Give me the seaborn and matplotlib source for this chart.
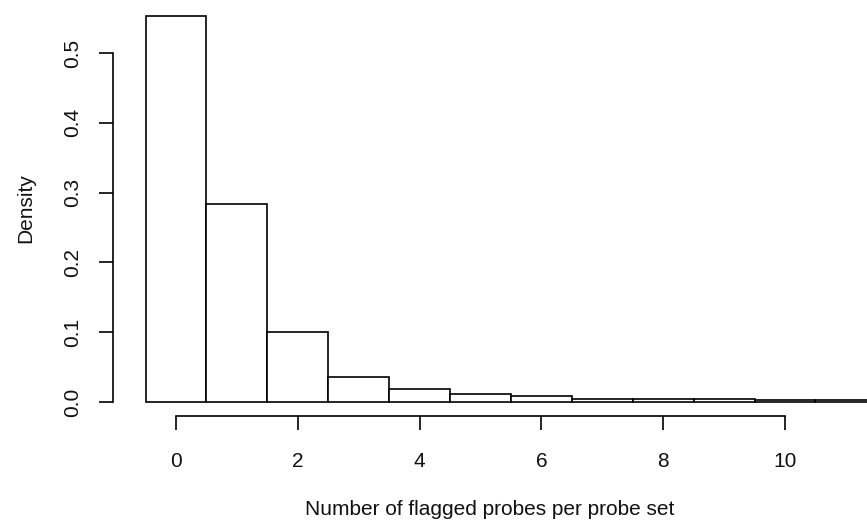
import numpy as np
import pandas as pd
import matplotlib
matplotlib.use("Agg")
import matplotlib.pyplot as plt
import seaborn as sns

# Bin centres (number of flagged probes) and density
flagged = [0, 1, 2, 3, 4, 5, 6, 7, 8, 9, 10, 11, 12, 13]
density = [0.553, 0.284, 0.100, 0.036, 0.019, 0.012, 0.009, 0.005,
           0.004, 0.004, 0.003, 0.003, 0.003, 0.002]
x_ticks = [0, 2, 4, 6, 8, 10]
y_ticks = [0.0, 0.1, 0.2, 0.3, 0.4, 0.5]
y_tick_labels = ["0.0", "0.1", "0.2", "0.3", "0.4", "0.5"]

sns.set_style("white")
plt.rcParams["font.family"] = ["Liberation Sans", "DejaVu Sans"]

df = pd.DataFrame({"flagged": flagged, "density": density})
edges = [float(v) for v in np.arange(min(flagged) - 0.5, max(flagged) + 1.0, 1.0)]

fig = plt.figure(figsize=(8.67, 5.28), dpi=100)
ax = fig.add_axes([113 / 867, (528 - 416) / 528, (867 - 113) / 867, 416 / 528])

sns.histplot(data=df, x="flagged", weights="density", bins=edges,
             stat="count", color="white", edgecolor="black", linewidth=1.2,
             alpha=1.0, ax=ax)

ax.set_xlim((113 - 176) / 60.9, (867 - 176) / 60.9)
ax.set_ylim(-(416 - 402) / 698, 402 / 698)

for s in ["top", "right"]:
    ax.spines[s].set_visible(False)
for s in ["left", "bottom"]:
    ax.spines[s].set_color("black")
    ax.spines[s].set_linewidth(1.2)
ax.spines["left"].set_bounds(0, 0.5)
ax.spines["bottom"].set_bounds(0, 10)

ax.set_xticks(x_ticks)
ax.set_xticklabels([str(t) for t in x_ticks])
ax.set_yticks(y_ticks)
ax.set_yticklabels(y_tick_labels, rotation=90, va="center")
ax.tick_params(axis="both", which="major", direction="out", length=10,
               width=1.2, color="black", labelsize=15, labelcolor="#111111",
               bottom=True, left=True)
ax.tick_params(axis="x", pad=16)
ax.tick_params(axis="y", pad=12)

ax.set_xlabel("Number of flagged probes per probe set", fontsize=15,
              color="#111111", labelpad=21)
ax.set_ylabel("Density", fontsize=15, color="#111111", labelpad=20)
ax.grid(False)

fig.savefig("out.png", dpi=100, facecolor="white")
